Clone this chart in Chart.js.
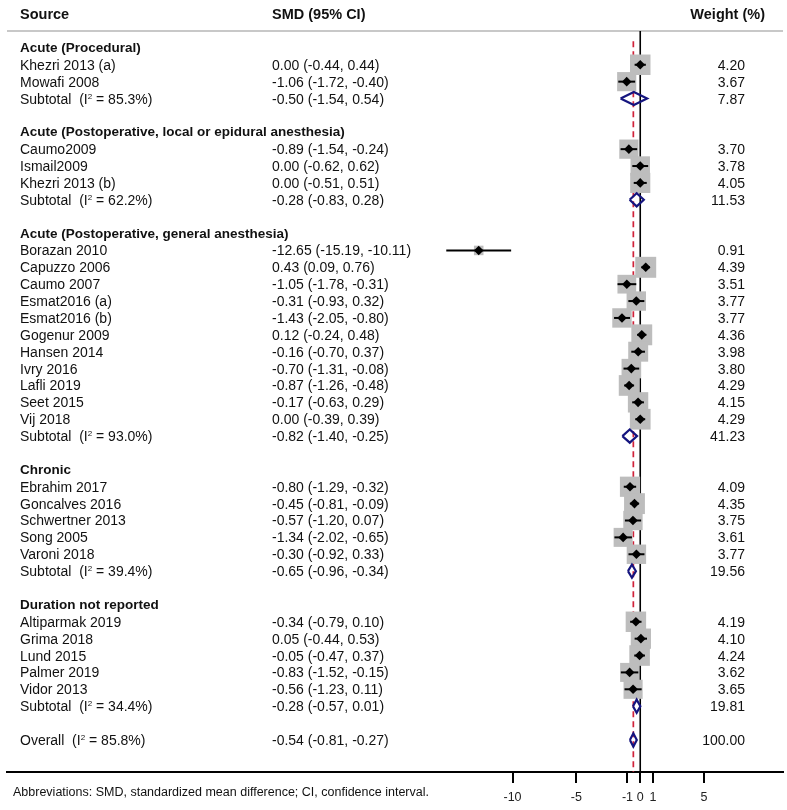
<!DOCTYPE html>
<html>
<head>
<meta charset="utf-8">
<script src="https://cdn.jsdelivr.net/npm/chart.js@4.4.1/dist/chart.umd.min.js"></script>
<style>
body { margin: 0; background: #fff; }
#wrap { position: relative; width: 787px; height: 810px; font-family: "Liberation Sans", Arial, sans-serif; color: #111; }
#forest { position: absolute; left: 0; top: 0; }
.t { position: absolute; white-space: pre; font-size: 14px; line-height: 16px; }
.b { font-weight: bold; font-size: 13.5px; }
.h { font-weight: bold; font-size: 14.5px; }
sup { font-size: 8px; vertical-align: 5px; line-height: 0; }
#note { position: absolute; left: 13px; top: 785px; font-size: 12.5px; line-height: 14px; white-space: pre; }
</style>
</head>
<body>
<div id="wrap">
<canvas id="forest" width="787" height="810"></canvas>
<div id="note">Abbreviations: SMD, standardized mean difference; CI, confidence interval.</div>
</div>
<script>
const groupNames = ['Acute (Procedural)', 'Acute (Postoperative, local or epidural anesthesia)',
  'Acute (Postoperative, general anesthesia)', 'Chronic', 'Duration not reported'];

const studyNames = ['Khezri 2013 (a)', 'Mowafi 2008',
  'Caumo2009', 'Ismail2009', 'Khezri 2013 (b)',
  'Borazan 2010', 'Capuzzo 2006', 'Caumo 2007', 'Esmat2016 (a)', 'Esmat2016 (b)', 'Gogenur 2009',
  'Hansen 2014', 'Ivry 2016', 'Lafli 2019', 'Seet 2015', 'Vij 2018',
  'Ebrahim 2017', 'Goncalves 2016', 'Schwertner 2013', 'Song 2005', 'Varoni 2018',
  'Altiparmak 2019', 'Grima 2018', 'Lund 2015', 'Palmer 2019', 'Vidor 2013'];
const studyGroup = [0, 0, 1, 1, 1, 2, 2, 2, 2, 2, 2, 2, 2, 2, 2, 2, 3, 3, 3, 3, 3, 4, 4, 4, 4, 4];
const studyEst = [0.00, -1.06, -0.89, 0.00, 0.00, -12.65, 0.43, -1.05, -0.31, -1.43, 0.12, -0.16, -0.70, -0.87, -0.17, 0.00,
  -0.80, -0.45, -0.57, -1.34, -0.30, -0.34, 0.05, -0.05, -0.83, -0.56];
const studyLo = [-0.44, -1.72, -1.54, -0.62, -0.51, -15.19, 0.09, -1.78, -0.93, -2.05, -0.24, -0.70, -1.31, -1.26, -0.63, -0.39,
  -1.29, -0.81, -1.20, -2.02, -0.92, -0.79, -0.44, -0.47, -1.52, -1.23];
const studyHi = [0.44, -0.40, -0.24, 0.62, 0.51, -10.11, 0.76, -0.31, 0.32, -0.80, 0.48, 0.37, -0.08, -0.48, 0.29, 0.39,
  -0.32, -0.09, 0.07, -0.65, 0.33, 0.10, 0.53, 0.37, -0.15, 0.11];
const studyWeight = [4.20, 3.67, 3.70, 3.78, 4.05, 0.91, 4.39, 3.51, 3.77, 3.77, 4.36, 3.98, 3.80, 4.29, 4.15, 4.29,
  4.09, 4.35, 3.75, 3.61, 3.77, 4.19, 4.10, 4.24, 3.62, 3.65];

const subI2 = ['85.3', '62.2', '93.0', '39.4', '34.4'];
const subEst = [-0.50, -0.28, -0.82, -0.65, -0.28];
const subLo = [-1.54, -0.83, -1.40, -0.96, -0.57];
const subHi = [0.54, 0.28, -0.25, -0.34, 0.01];
const subWeight = [7.87, 11.53, 41.23, 19.56, 19.81];

const overallI2 = '85.8';
const overallEst = -0.54, overallLo = -0.81, overallHi = -0.27, overallWeight = 100.00;

const xTicks = [-10, -5, -1, 0, 1, 5];

// lay out rows: heading, studies, subtotal, blank ... overall
const rows = [];
let r = 0;
const studyRow = [];
groupNames.forEach((g, gi) => {
  rows.push({ kind: 'head', row: r++, text: g });
  studyNames.forEach((s, si) => {
    if (studyGroup[si] === gi) {
      studyRow[si] = r;
      rows.push({ kind: 'study', row: r++, text: s, est: studyEst[si], lo: studyLo[si], hi: studyHi[si], w: studyWeight[si] });
    }
  });
  rows.push({ kind: 'sub', row: r++, text: 'Subtotal  (I<sup>2</sup> = ' + subI2[gi] + '%)', est: subEst[gi], lo: subLo[gi], hi: subHi[gi], w: subWeight[gi] });
  r++;
});
rows.push({ kind: 'sub', row: r, text: 'Overall  (I<sup>2</sup> = ' + overallI2 + '%)', est: overallEst, lo: overallLo, hi: overallHi, w: overallWeight });

const yMax = 42.9;
const dH = 0.39;

const datasets = [];
datasets.push({
  type: 'line', data: [{ x: 0, y: -1 }, { x: 0, y: yMax }],
  borderColor: '#000', borderWidth: 1.6, pointRadius: 0, order: 6
});
datasets.push({
  type: 'line', data: [{ x: overallEst, y: -0.4 }, { x: overallEst, y: yMax }],
  borderColor: '#d0223a', borderWidth: 1.7, borderDash: [6, 4], pointRadius: 0, order: 5
});
datasets.push({
  type: 'scatter',
  data: studyEst.map((v, i) => ({ x: v, y: studyRow[i] })),
  pointStyle: 'rect',
  pointRadius: studyWeight.map(w => 10 * Math.sqrt(w) / Math.SQRT2),
  backgroundColor: '#bdbdbd', borderWidth: 0, order: 4
});
studyEst.forEach((v, i) => {
  datasets.push({
    type: 'line', data: [{ x: studyLo[i], y: studyRow[i] }, { x: studyHi[i], y: studyRow[i] }],
    borderColor: '#000', borderWidth: 2, pointRadius: 0, order: 3
  });
});
datasets.push({
  type: 'scatter',
  data: studyEst.map((v, i) => ({ x: v, y: studyRow[i] })),
  pointStyle: 'rectRot', pointRadius: 4.8,
  backgroundColor: '#000', borderWidth: 0, order: 2
});
rows.filter(o => o.kind === 'sub').forEach(o => {
  datasets.push({
    type: 'line',
    data: [{ x: o.lo, y: o.row }, { x: o.est, y: o.row - dH }, { x: o.hi, y: o.row }, { x: o.est, y: o.row + dH }, { x: o.lo, y: o.row }],
    borderColor: '#15157f', borderWidth: 2.2, pointRadius: 0, fill: false, tension: 0, order: 1
  });
});

const headerLine = {
  id: 'headerLine',
  beforeDatasetsDraw(chart) {
    const ctx = chart.ctx, a = chart.chartArea;
    ctx.save();
    ctx.strokeStyle = '#c8c8c8';
    ctx.lineWidth = 2;
    ctx.beginPath();
    ctx.moveTo(a.left, a.top);
    ctx.lineTo(a.right, a.top);
    ctx.stroke();
    ctx.restore();
  }
};

const chart = new Chart(document.getElementById('forest'), {
  type: 'scatter',
  data: { datasets: datasets },
  options: {
    responsive: false,
    animation: false,
    devicePixelRatio: 1,
    events: [],
    layout: { autoPadding: false, padding: { left: 7, right: 4, top: 31, bottom: 0 } },
    plugins: { legend: { display: false }, tooltip: { enabled: false } },
    scales: {
      x: {
        type: 'linear', min: -49.59, max: 11.18,
        afterBuildTicks: axis => { axis.ticks = xTicks.map(v => ({ value: v })); },
        afterFit: axis => { axis.height = 38; },
        grid: { display: true, drawOnChartArea: false, drawTicks: true, tickLength: 11, color: '#000', lineWidth: 2 },
        border: { display: true, color: '#000', width: 2 },
        ticks: { autoSkip: false, maxRotation: 0, padding: 7, color: '#222', font: { family: 'Liberation Sans', size: 12.5 } }
      },
      y: { type: 'linear', reverse: true, min: -1, max: yMax, display: false }
    }
  },
  plugins: [headerLine]
});

// text columns, placed on the chart's row positions
const wrap = document.getElementById('wrap');
const ys = chart.scales.y;
function addText(html, cls, left, right, row) {
  const d = document.createElement('div');
  d.className = 't ' + cls;
  d.innerHTML = html;
  d.style.top = (ys.getPixelForValue(row) - 8) + 'px';
  if (left != null) d.style.left = left + 'px';
  if (right != null) { d.style.right = (787 - right) + 'px'; d.style.textAlign = 'right'; }
  wrap.appendChild(d);
}
const f = v => v.toFixed(2);
addText('Source', 'h', 20, null, -2);
addText('SMD (95% CI)', 'h', 272, null, -2);
addText('Weight (%)', 'h', null, 765, -2);
rows.forEach(o => {
  if (o.kind === 'head') {
    addText(o.text, 'b', 20, null, o.row);
  } else {
    addText(o.text, '', 20, null, o.row);
    addText(f(o.est) + ' (' + f(o.lo) + ', ' + f(o.hi) + ')', '', 272, null, o.row);
    addText(f(o.w), '', null, 745, o.row);
  }
});
</script>
</body>
</html>
